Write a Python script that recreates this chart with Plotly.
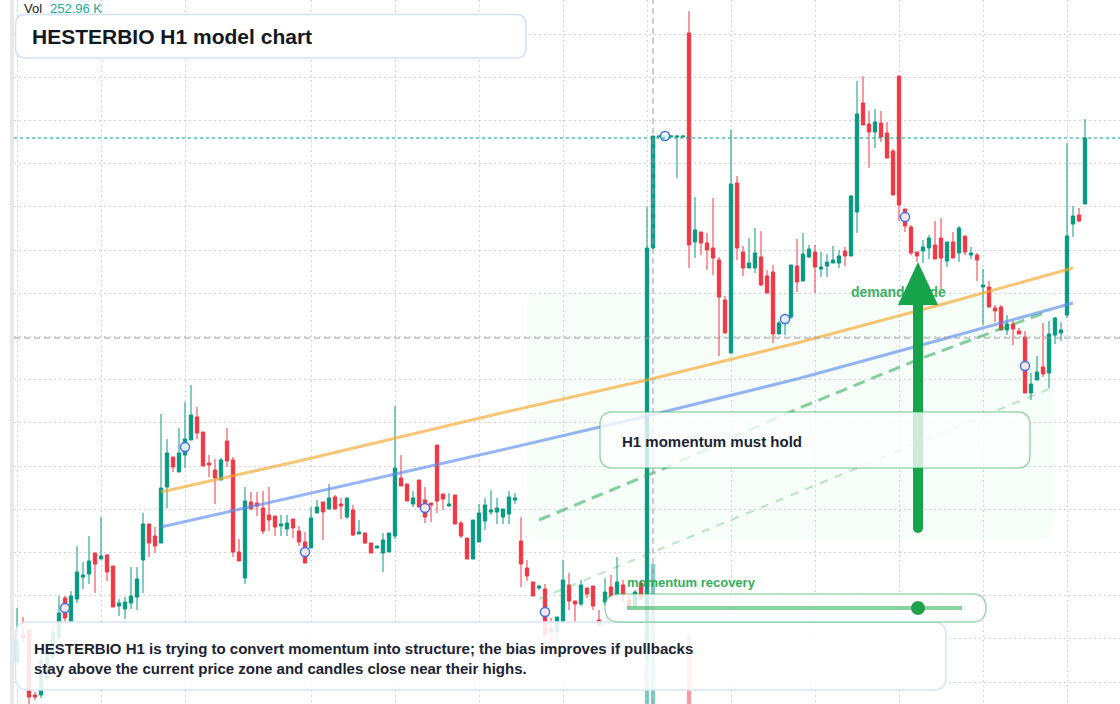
import plotly.graph_objects as go

W, H = 1120, 704

# ---------------- data (H1 candles, price units) ----------------
opens = [
    1634.5, 1641.25, 1642.5, 1626.25, 1626.25, 1630.5, 1635.75, 1640.75, 1650.5, 1644.5,
    1650.25, 1655.75, 1656.5, 1661.75, 1660.25, 1661.25, 1658.5, 1648.5, 1647.75, 1649.25,
    1650.75, 1660, 1669, 1666, 1664.25, 1678.25, 1685.75, 1682, 1686.25, 1690,
    1695.75, 1692, 1684.25, 1682.5, 1680, 1689.75, 1685, 1662, 1655.5, 1674.5,
    1674.25, 1673, 1671.25, 1671, 1668.5, 1667.75, 1670.25, 1667.25, 1664.5, 1663,
    1671.75, 1674.5, 1672.75, 1675.75, 1674, 1670.75, 1672.5, 1666.5, 1666.75, 1664.25,
    1663, 1661.75, 1662, 1666, 1680.5, 1679, 1674, 1680, 1675, 1674.25,
    1688.75, 1676.5, 1673.5, 1676.25, 1669.25, 1665.5, 1660.25, 1664.5, 1669.75, 1672,
    1672, 1670.75, 1671.5, 1675, 1664.75, 1658, 1654.5, 1653, 1652.75, 1643,
    1642, 1644.5, 1653.75, 1649.75, 1649, 1653, 1653.5, 1645, 1649.5, 1653.25,
    1651.25, 1653.75, 1650, 1648.25, 1654.25, 1636.25, 1738, 1765.75, 1765.75, 1765.75,
    1765.75, 1765.75, 1791.75, 1739.5, 1742, 1739.25, 1738, 1735, 1725, 1711.75,
    1754.25, 1737, 1733, 1733, 1735.75, 1731, 1732, 1716.5, 1719.5, 1720.75,
    1733.5, 1729.75, 1735.75, 1737, 1732.75, 1733.5, 1734.25, 1734.25, 1737.25, 1736,
    1747, 1774.25, 1769, 1767, 1769.25, 1766.75, 1762.25, 1781, 1747.75, 1743.25,
    1737, 1737.25, 1738, 1738.75, 1740.5, 1734.75, 1739.5, 1736.75, 1741, 1736.25,
    1736.25, 1728.25, 1728.25, 1723, 1723.25, 1717.5, 1719, 1717.25, 1715.75, 1701.75,
    1705, 1708.25, 1706.75, 1716.25, 1716.75, 1721.25, 1744, 1746.25, 1749,
]
highs = [
    1648, 1645.75, 1642.75, 1627, 1636.25, 1637.5, 1643.75, 1651, 1651, 1652.25,
    1663.5, 1659.5, 1666, 1661.75, 1670.75, 1661.5, 1658.5, 1650.25, 1650.75, 1658.25,
    1658.25, 1671.75, 1669, 1668.25, 1696.5, 1690.25, 1685.75, 1693, 1699.5, 1703.75,
    1698.25, 1692, 1686.25, 1685.25, 1685.5, 1693, 1685.75, 1665.25, 1678.25, 1677,
    1677, 1677.25, 1678.25, 1671, 1671.25, 1671.25, 1670.25, 1668.5, 1667, 1673.25,
    1675, 1674.5, 1679, 1676.25, 1675.5, 1675.5, 1673.75, 1670, 1666.75, 1664.25,
    1663.5, 1666.75, 1666.75, 1698.5, 1686.25, 1679, 1677.25, 1680, 1678.25, 1674.25,
    1688.75, 1676.5, 1676.75, 1676.25, 1669.75, 1665.5, 1670, 1674, 1675.5, 1677.5,
    1675.5, 1672.75, 1677.25, 1676.75, 1670.75, 1660, 1654.5, 1653.75, 1654, 1645.5,
    1645.75, 1660, 1656.75, 1649.75, 1655, 1653, 1653.5, 1647.5, 1655.5, 1656.25,
    1660.75, 1655, 1651.25, 1652.5, 1655, 1748.25, 1766, 1766, 1766, 1766,
    1766, 1766, 1797.25, 1750.75, 1742, 1741.75, 1750.5, 1735.75, 1726, 1767.5,
    1756, 1738.5, 1740.5, 1743, 1742.25, 1732.5, 1733.75, 1719.75, 1721, 1733.75,
    1740.25, 1741.75, 1738.75, 1738.75, 1737, 1736.5, 1738.5, 1737.5, 1738.25, 1751.25,
    1779.75, 1781, 1772.25, 1772.75, 1772.25, 1769.5, 1762.75, 1781, 1747.75, 1743.75,
    1737, 1740, 1741.25, 1744.75, 1745.5, 1739.5, 1742, 1743.5, 1741, 1738.25,
    1736.75, 1732.75, 1729.75, 1723.75, 1723.75, 1721.25, 1719.75, 1718, 1717.25, 1706.75,
    1711, 1719.25, 1719.75, 1720.75, 1719.5, 1764.25, 1748.5, 1748, 1770.25,
]
lows = [
    1633.75, 1639.5, 1623.75, 1625, 1625.5, 1629.5, 1635, 1640, 1644.5, 1644,
    1649.25, 1652.75, 1654, 1651.75, 1660.25, 1654.75, 1648.25, 1646, 1645.25, 1647.75,
    1647.5, 1651.75, 1660.75, 1661.75, 1664.25, 1673, 1682, 1682, 1683, 1690,
    1690.25, 1683.5, 1680.75, 1674, 1680, 1683.25, 1660.75, 1659.75, 1654, 1672.75,
    1671, 1666.5, 1667.25, 1666, 1666, 1666, 1665.5, 1663.5, 1659.25, 1663,
    1671.75, 1665, 1672.75, 1672.75, 1670.25, 1670.25, 1666, 1666.5, 1664, 1661.75,
    1663, 1657, 1662, 1665.25, 1678.5, 1674.75, 1673.25, 1673.25, 1669.25, 1669.5,
    1671.75, 1672.5, 1673.5, 1669, 1665.5, 1660.25, 1660.25, 1664.5, 1667.5, 1671.25,
    1669, 1669, 1669, 1674, 1653.25, 1654.75, 1651, 1652.5, 1640.75, 1639.25,
    1640, 1644, 1647.5, 1644.5, 1648.5, 1650.5, 1647.5, 1643.5, 1648.75, 1650,
    1650.75, 1649.5, 1647.5, 1647.75, 1650, 1635, 1737.5, 1765.75, 1765.75, 1765.75,
    1755.5, 1765.75, 1733, 1735.5, 1736.25, 1732.5, 1731.25, 1711, 1716.75, 1711.75,
    1735, 1731, 1733, 1731.75, 1728.5, 1726.75, 1714.25, 1716.5, 1716.25, 1720.25,
    1727, 1729.75, 1735.5, 1726.75, 1730.75, 1730.75, 1734.25, 1733, 1733.5, 1736,
    1741.75, 1768.75, 1758, 1763, 1764.5, 1760.5, 1751.25, 1744.75, 1742, 1736.25,
    1734.5, 1734.25, 1735.25, 1735.25, 1727.75, 1733.25, 1735.5, 1734.5, 1736.25, 1735.25,
    1729.75, 1718.75, 1723.25, 1719.5, 1717.5, 1716.25, 1713.75, 1716.5, 1701.75, 1700,
    1705, 1705.75, 1703, 1714, 1714.75, 1720.5, 1740.75, 1744.5, 1749,
]
closes = [
    1640, 1640.5, 1625.75, 1625.75, 1635, 1635.75, 1642, 1646.75, 1645.5, 1651,
    1657, 1656.25, 1659.75, 1659, 1661, 1657, 1648.25, 1649.25, 1649.5, 1651,
    1655.25, 1669, 1664.25, 1663.5, 1678, 1686.75, 1683.25, 1686.75, 1690.25, 1696.25,
    1691.75, 1683.5, 1683.75, 1680.5, 1685, 1684.75, 1662, 1659.75, 1674.75, 1672.75,
    1673.5, 1667.25, 1670, 1668.25, 1669, 1669.25, 1668, 1664.5, 1659.25, 1670.5,
    1673.25, 1672, 1675.5, 1672.75, 1673.5, 1675.5, 1666.25, 1667, 1664.25, 1661.75,
    1663.5, 1665, 1666.75, 1683, 1678.5, 1674.75, 1675.5, 1673.25, 1670.75, 1673.75,
    1674.75, 1675.25, 1674, 1669, 1666, 1660.25, 1670, 1671.75, 1673.75, 1672.5,
    1673, 1672.75, 1675.75, 1675.5, 1659, 1656, 1651, 1653.5, 1641.25, 1642,
    1645.75, 1655, 1649.75, 1649, 1653.75, 1651.5, 1648.5, 1643.75, 1652, 1650.75,
    1654.5, 1651.25, 1648.25, 1652, 1650.5, 1738, 1766, 1766, 1766, 1766,
    1766, 1766, 1738.75, 1742.5, 1739.25, 1737.5, 1735.5, 1725.75, 1716.75, 1754,
    1738, 1733, 1734.25, 1736.75, 1728.75, 1726.75, 1716.5, 1719.25, 1721, 1733.75,
    1729.5, 1736.5, 1737.75, 1733.25, 1733.25, 1734.5, 1735, 1736, 1736, 1751,
    1771.5, 1768.75, 1767, 1769.5, 1765.75, 1760.5, 1751.25, 1748.75, 1743.5, 1736.75,
    1736, 1738.25, 1740.5, 1735.25, 1735.5, 1739.5, 1735.5, 1743, 1737, 1736.75,
    1735, 1728.75, 1723.25, 1722.25, 1717.5, 1719, 1717.75, 1716.5, 1701.75, 1704,
    1707, 1706.5, 1716.5, 1720.5, 1717.5, 1741, 1746, 1744.75, 1765.5,
]
volumes_k = [
    62, 48, 95, 40, 71, 55, 68, 82, 58, 64,
    110, 52, 88, 61, 75, 57, 102, 38, 44, 60,
    79, 135, 70, 49, 190, 121, 47, 83, 96, 118,
    73, 87, 41, 66, 54, 78, 150, 59, 142, 45,
    39, 72, 63, 42, 35, 40, 51, 58, 74, 92,
    44, 60, 56, 47, 36, 52, 71, 33, 41, 49,
    30, 65, 58, 210, 77, 64, 42, 69, 75, 38,
    128, 46, 37, 81, 66, 90, 105, 86, 62, 48,
    44, 39, 70, 35, 140, 68, 72, 31, 115, 56,
    61, 132, 78, 50, 69, 43, 74, 58, 55, 63,
    80, 57, 48, 52, 66, 840, 1700, 95, 40, 36,
    88, 52, 990, 260, 180, 150, 210, 240, 175, 280,
    230, 145, 110, 132, 160, 120, 195, 98, 104, 170,
    140, 126, 90, 118, 84, 92, 76, 88, 80, 185,
    270, 210, 165, 150, 148, 170, 190, 285, 190, 160,
    95, 90, 104, 118, 160, 96, 110, 120, 85, 72,
    98, 112, 108, 92, 110, 88, 96, 70, 175, 120,
    96, 140, 150, 118, 84, 265, 160, 110, 252.96,
]

# overlay lines (candle index, price)
orange_idx = [24, 47, 80, 105, 130, 155, 176]
orange_val = [1677, 1684.75, 1696.5, 1705, 1714.25, 1724.25, 1733]
blue_idx = [24, 47, 80, 105, 130, 155, 176]
blue_val = [1668.25, 1676, 1687.25, 1696, 1705.25, 1715.5, 1724.25]
green_dash_idx = [87, 108, 130, 150, 172]
green_dash_val = [1670, 1683, 1697.75, 1710, 1722.25]
light_dash_idx = [87, 130, 172]
light_dash_val = [1650.25, 1676.75, 1702.75]

signal_idx = [8, 28, 48, 68, 88, 108, 128, 148, 168]
signal_val = [1648, 1688.25, 1662, 1673, 1647, 1766, 1720.25, 1745.75, 1708.5]

grid_idx = [0, 14, 28, 49, 63, 77, 91, 105, 119, 133, 147, 161, 175]
last_price = 1765.5
cross_idx = 106
cross_price = 1715.5
zone_label_idx = 139
zone_label_price = 1726.75

TEAL = "#089981"
RED = "#F23645"
FONT = "Liberation Sans, Arial, sans-serif"
GRID = "rgba(175,175,175,0.55)"


def fx(p):
    return p / W


def fy(p):
    return 1 - p / H


def rrect(x0, y0, x1, y1, r):
    pts = [
        ("M", (x0 + r, y0)), ("L", (x1 - r, y0)), ("Q", (x1, y0), (x1, y0 + r)),
        ("L", (x1, y1 - r)), ("Q", (x1, y1), (x1 - r, y1)), ("L", (x0 + r, y1)),
        ("Q", (x0, y1), (x0, y1 - r)), ("L", (x0, y0 + r)), ("Q", (x0, y0), (x0 + r, y0)),
    ]
    s = ""
    for item in pts:
        cmd = item[0]
        coords = " ".join(f"{fx(a):.5f},{fy(b):.5f}" for a, b in item[1:])
        s += f"{cmd} {coords} "
    return s + "Z"


idx = list(range(len(opens)))
vol_colors = [
    "rgba(8,153,129,0.5)" if c >= o else "rgba(242,54,69,0.5)" for o, c in zip(opens, closes)
]

fig = go.Figure()
fig.add_trace(go.Bar(x=idx, y=volumes_k, yaxis="y2", marker=dict(color=vol_colors, line=dict(width=0)),
                     width=0.72, hoverinfo="skip", showlegend=False))
fig.add_trace(go.Candlestick(
    x=idx, open=opens, high=highs, low=lows, close=closes,
    increasing=dict(line=dict(color=TEAL, width=1), fillcolor=TEAL),
    decreasing=dict(line=dict(color=RED, width=1), fillcolor=RED),
    whiskerwidth=0, hoverinfo="skip", showlegend=False))
fig.add_trace(go.Scatter(x=orange_idx, y=orange_val, mode="lines", line=dict(color="rgba(245,168,45,0.65)", width=3),
                         hoverinfo="skip", showlegend=False))
fig.add_trace(go.Scatter(x=blue_idx, y=blue_val, mode="lines", line=dict(color="rgba(95,140,240,0.65)", width=3),
                         hoverinfo="skip", showlegend=False))
fig.add_trace(go.Scatter(x=green_dash_idx, y=green_dash_val, mode="lines",
                         line=dict(color="rgba(40,170,85,0.55)", width=3, dash="12px,7px"),
                         hoverinfo="skip", showlegend=False))
fig.add_trace(go.Scatter(x=light_dash_idx, y=light_dash_val, mode="lines",
                         line=dict(color="rgba(60,180,100,0.35)", width=2, dash="8px,8px"),
                         hoverinfo="skip", showlegend=False))
fig.add_trace(go.Scatter(x=signal_idx, y=signal_val, mode="markers",
                         marker=dict(size=9, color="rgba(255,255,255,0.85)", line=dict(color="#3d6ff2", width=1.5)),
                         hoverinfo="skip", showlegend=False))
fig.add_trace(go.Scatter(x=[zone_label_idx], y=[zone_label_price], mode="text", text=["<b>demand guide</b>"],
                         textposition="middle right",
                         textfont=dict(family=FONT, size=14, color="rgba(34,165,80,0.9)"),
                         hoverinfo="skip", showlegend=False))

shapes = []
# left scale strip
shapes.append(dict(type="rect", xref="paper", yref="paper", x0=fx(10), x1=fx(14), y0=0, y1=1,
                   fillcolor="#e8e8e8", line=dict(width=0), layer="above"))
# demand zone
shapes.append(dict(type="path", xref="paper", yref="paper", path=rrect(527, 292, 1053, 540, 16),
                   fillcolor="rgba(34,197,94,0.035)", line=dict(width=0), layer="below"))
# last price line
shapes.append(dict(type="line", xref="paper", yref="y", x0=fx(14), x1=1, y0=last_price, y1=last_price,
                   line=dict(color=TEAL, width=1, dash="dot"), layer="above"))
# crosshair
shapes.append(dict(type="line", xref="x", yref="paper", x0=cross_idx, x1=cross_idx, y0=0, y1=1,
                   line=dict(color="#9a9ca3", width=1, dash="6px,4px"), layer="above"))
shapes.append(dict(type="line", xref="paper", yref="y", x0=fx(14), x1=1, y0=cross_price, y1=cross_price,
                   line=dict(color="#9a9ca3", width=1, dash="6px,4px"), layer="above"))
# big arrow
shapes.append(dict(type="line", xref="paper", yref="paper", x0=fx(918), x1=fx(918), y0=fy(528), y1=fy(300),
                   line=dict(color="#17a34a", width=10), layer="above"))
shapes.append(dict(type="circle", xref="paper", yref="paper", x0=fx(913), x1=fx(923), y0=fy(533), y1=fy(523),
                   fillcolor="#17a34a", line=dict(width=0), layer="above"))
shapes.append(dict(type="path", xref="paper", yref="paper",
                   path=f"M {fx(898):.5f},{fy(305):.5f} L {fx(918):.5f},{fy(262):.5f} L {fx(938):.5f},{fy(305):.5f} Z",
                   fillcolor="#17a34a", line=dict(width=0), layer="above"))
# title box
shapes.append(dict(type="path", xref="paper", yref="paper", path=rrect(15.5, 14.5, 526, 58, 10),
                   fillcolor="rgba(255,255,255,0.97)", line=dict(color="#d3e1f7", width=1.5), layer="above"))
# H1 momentum box
shapes.append(dict(type="path", xref="paper", yref="paper", path=rrect(600, 412, 1030, 468, 13),
                   fillcolor="rgba(255,255,255,0.78)", line=dict(color="rgba(40,170,85,0.45)", width=1.5),
                   layer="above"))
# bottom text box
shapes.append(dict(type="path", xref="paper", yref="paper", path=rrect(15.5, 622, 946, 690, 13),
                   fillcolor="rgba(255,255,255,0.87)", line=dict(color="#d8e5f9", width=1.5), layer="above"))
# momentum recovery panel
shapes.append(dict(type="path", xref="paper", yref="paper", path=rrect(605, 594, 986, 622, 14),
                   fillcolor="rgba(255,255,255,0.8)", line=dict(color="rgba(40,170,85,0.45)", width=1.5),
                   layer="above"))
shapes.append(dict(type="line", xref="paper", yref="paper", x0=fx(627), x1=fx(962), y0=fy(608), y1=fy(608),
                   line=dict(color="rgba(40,170,85,0.55)", width=4), layer="above"))
shapes.append(dict(type="circle", xref="paper", yref="paper", x0=fx(911), x1=fx(925), y0=fy(615), y1=fy(601),
                   fillcolor="#23a24d", line=dict(width=0), layer="above"))


def ann(x, y, text, size, color, xanchor="left"):
    return dict(xref="paper", yref="paper", x=fx(x), y=fy(y), text=text, showarrow=False,
                xanchor=xanchor, yanchor="middle", font=dict(family=FONT, size=size, color=color))


annotations = [
    ann(22, 8.5, "Vol", 13, "#131722"),
    ann(48, 8.5, "252.96 K", 13, "#22ab94"),
    ann(30, 36, "<b>HESTERBIO H1 model chart</b>", 21, "#131722"),
    ann(32, 648, "<b>HESTERBIO H1 is trying to convert momentum into structure; the bias improves if pullbacks</b>",
        15, "#1b2333"),
    ann(32, 668, "<b>stay above the current price zone and candles close near their highs.</b>", 15, "#1b2333"),
    ann(620, 441, "<b>H1 momentum must hold</b>", 15, "#1b2333"),
    ann(625, 582, "<b>momentum recovery</b>", 13, "rgba(34,170,80,0.95)"),
]

fig.update_layout(
    width=W, height=H, margin=dict(l=0, r=0, t=0, b=0),
    paper_bgcolor="white", plot_bgcolor="white",
    showlegend=False, hovermode=False, boxgap=0.2,
    shapes=shapes, annotations=annotations,
    xaxis=dict(domain=[fx(14), 1], range=[-0.5, (W - 17) / 6], tickvals=grid_idx, showticklabels=False,
               showgrid=True, gridcolor=GRID, griddash="2px,3px", gridwidth=1,
               zeroline=False, showline=False, rangeslider=dict(visible=False), fixedrange=True),
    yaxis=dict(domain=[0, 1], range=[1624, 1800], tick0=1629.5, dtick=10.8, showticklabels=False,
               showgrid=True, gridcolor=GRID, griddash="2px,3px", gridwidth=1,
               zeroline=False, showline=False, fixedrange=True),
    yaxis2=dict(overlaying="y", range=[300, 300 + H * 10], visible=False, fixedrange=True),
)

fig.write_html("out.html", config={"displayModeBar": False})
